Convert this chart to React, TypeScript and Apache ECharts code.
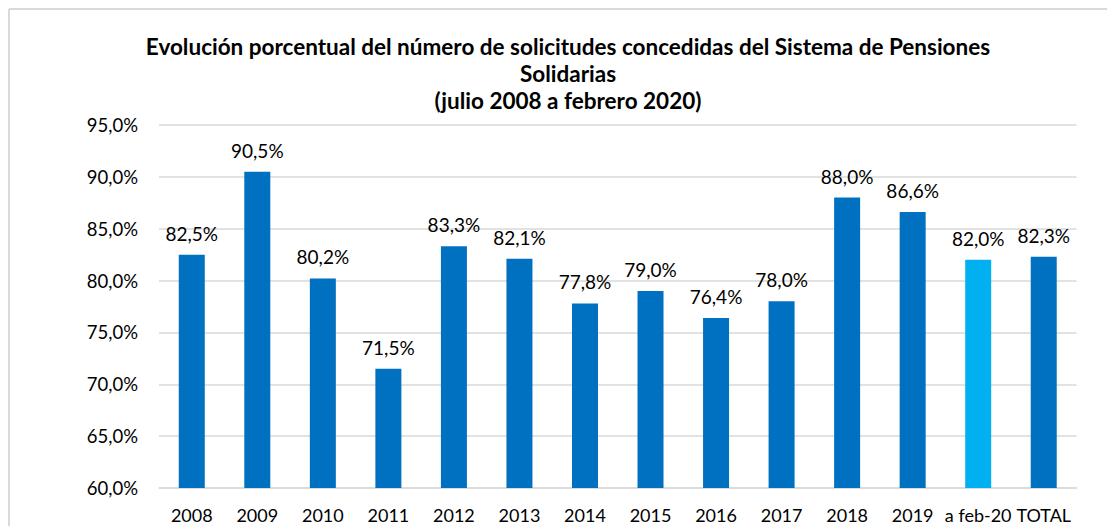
import React, { useEffect, useRef } from "react";
import * as echarts from "echarts";

const categories = ["2008", "2009", "2010", "2011", "2012", "2013", "2014", "2015", "2016", "2017", "2018", "2019", "a feb-20", "TOTAL"];
const values: number[] = [82.5, 90.5, 80.2, 71.5, 83.3, 82.1, 77.8, 79.0, 76.4, 78.0, 88.0, 86.6, 82.0, 82.3];
const highlightCategory = "a feb-20";
const yTicks = { min: 60, max: 95, interval: 5 };
const titleLines = [
  "Evolución porcentual del número de solicitudes concedidas del Sistema de Pensiones",
  "Solidarias",
  "(julio 2008 a febrero 2020)",
];

const FONT = "Lato, 'Open Sans', sans-serif";
const fmt = (v: number) => v.toFixed(1).replace(".", ",") + "%";

export default function App() {
  const ref = useRef<HTMLDivElement>(null);
  useEffect(() => {
    if (!ref.current) return;
    const chart = echarts.init(ref.current, undefined, { renderer: "svg" });
    chart.setOption({
      animation: false,
      textStyle: { fontFamily: FONT },
      title: {
        text: titleLines.join("\n"),
        left: 555,
        textAlign: "center",
        top: 20,
        textStyle: { fontFamily: FONT, fontSize: 22.5, fontWeight: "bold", color: "#000", lineHeight: 27 },
      },
      graphic: [
        { type: "line", shape: { x1: 1, y1: 1, x2: 1200, y2: 1 }, style: { stroke: "#D9D9D9", lineWidth: 2 } },
        { type: "line", shape: { x1: 1, y1: 1, x2: 1, y2: 600 }, style: { stroke: "#D9D9D9", lineWidth: 2 } },
      ],
      grid: { left: 151, right: 38.5, top: 117, bottom: 38, containLabel: false },
      xAxis: {
        type: "category",
        data: categories,
        axisLine: { show: true, lineStyle: { color: "#D9D9D9", width: 1.5 } },
        axisTick: { show: false },
        axisLabel: { interval: 0, color: "#000", fontSize: 18, fontFamily: FONT, margin: 18 },
      },
      yAxis: {
        type: "value",
        min: yTicks.min,
        max: yTicks.max,
        interval: yTicks.interval,
        axisLine: { show: false },
        axisTick: { show: false },
        splitLine: { lineStyle: { color: "#D9D9D9", width: 1.5 } },
        axisLabel: { color: "#000", fontSize: 18.5, fontFamily: FONT, margin: 21, formatter: (v: number) => fmt(v) },
      },
      series: [
        {
          type: "bar",
          barWidth: 26,
          data: values.map((v, i) => ({
            value: v,
            itemStyle: { color: categories[i] === highlightCategory ? "#00B0F0" : "#0070C0" },
          })),
          label: {
            show: true,
            position: "top",
            distance: 12,
            color: "#000",
            fontSize: 19,
            fontFamily: FONT,
            formatter: (p: any) => fmt(p.value),
          },
        },
      ],
    });
    return () => chart.dispose();
  }, []);
  return <div ref={ref} style={{ width: 1107, height: 518 }} />;
}
